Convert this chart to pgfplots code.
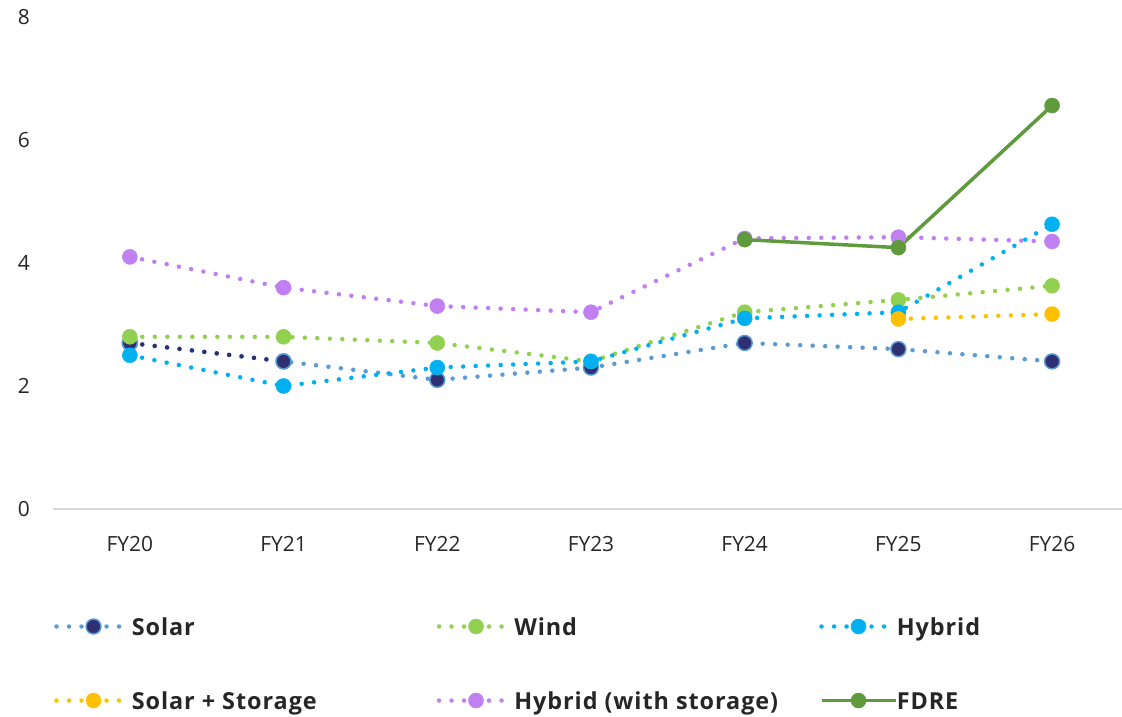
\documentclass[border=0pt]{standalone}
\usepackage{pgfplots}
\pgfplotsset{compat=1.18}
\usepackage{fontspec}
\setmainfont{Open Sans}
\newfontfamily\legfont[LetterSpace=4]{Open Sans}
\definecolor{solarline}{HTML}{5B9BD5}
\definecolor{solarmark}{HTML}{2E3072}
\definecolor{wind}{HTML}{92D050}
\definecolor{hybrid}{HTML}{00B0F0}
\definecolor{solst}{HTML}{FFC000}
\definecolor{hybst}{HTML}{C080F2}
\definecolor{fdre}{HTML}{5F9B3D}
\definecolor{txt}{HTML}{262626}
\tikzset{dotline/.style={line width=4.5bp, line cap=round, dash pattern=on 0bp off 12.5bp}}
\begin{document}
\begin{tikzpicture}
\useasboundingbox (-53bp,-208bp) rectangle (1069bp,509bp);
\begin{axis}[
  at={(0,0)}, anchor=south west,
  scale only axis, width=1069bp, height=492bp,
  xmin=-0.5, xmax=6.455, ymin=0, ymax=8,
  xtick={0,...,6}, xticklabels={FY20,FY21,FY22,FY23,FY24,FY25,FY26},
  ytick={0,2,4,6,8},
  axis x line=bottom, axis y line=left,
  y axis line style={draw=none},
  x axis line style={-, draw=black!15, line width=1.5bp},
  major tick length=0pt,
  tick label style={font=\fontsize{21}{24}\selectfont, text=txt},
  xticklabel style={inner sep=0pt, anchor=north, yshift=-27bp},
  yticklabel style={inner sep=0pt, anchor=east, xshift=-23bp},
  /pgf/number format/assume math mode=true,
  clip=false,
  legend columns=3,
  legend style={draw=none, fill=none, inner sep=0pt, at={(0.001,-0.213)}, anchor=north west,
    font=\legfont\bfseries\fontsize{23.5}{28}\selectfont, text=txt, row sep=49bp,
    nodes={inner sep=2bp}},
  legend cell align=left,
  legend image code/.code={\draw[mark repeat=2,mark phase=2] plot coordinates {(0bp,0bp)(37bp,0bp)(74bp,0bp)};},
  mark size=7.5bp,
]
% Solar
\addplot[dotline, solarline, mark=*, mark options={solid, fill=solarmark, draw=solarline, line width=1.5bp}]
  coordinates {(0,2.7)(1,2.4)(2,2.1)(3,2.3)(4,2.7)(5,2.6)(6,2.4)};
\addlegendentry{\hspace*{-3bp}\makebox[303bp][l]{\strut Solar}}
\addplot[dotline, solarmark, forget plot] coordinates {(0,2.7)(1,2.4)};
\addplot[only marks, mark=*, mark options={solid, fill=solarmark, draw=solarline, line width=1.5bp}, forget plot]
  coordinates {(0,2.7)(1,2.4)};
% Wind
\addplot[dotline, wind, mark=*, mark options={solid, fill=wind, draw=wind, line width=0.5bp}]
  coordinates {(0,2.8)(1,2.8)(2,2.7)(3,2.4)(4,3.2)(5,3.4)(6,3.63)};
\addlegendentry{\hspace*{-3bp}\makebox[303bp][l]{\strut Wind}}
% Hybrid
\addplot[dotline, hybrid, mark=*, mark options={solid, fill=hybrid, draw=hybrid, line width=0.5bp}]
  coordinates {(0,2.5)(1,2.0)(2,2.3)(3,2.4)(4,3.1)(5,3.2)(6,4.63)};
\addlegendentry{\hspace*{-3bp}\makebox[303bp][l]{\strut Hybrid}}
% Solar + Storage
\addplot[dotline, solst, mark=*, mark options={solid, fill=solst, draw=solst, line width=0.5bp}]
  coordinates {(5,3.09)(6,3.17)};
\addlegendentry{\hspace*{-3bp}\makebox[303bp][l]{\strut Solar + Storage}}
% Hybrid (with storage)
\addplot[dotline, hybst, mark=*, mark options={solid, fill=hybst, draw=hybst, line width=0.5bp}]
  coordinates {(0,4.1)(1,3.6)(2,3.3)(3,3.2)(4,4.4)(5,4.42)(6,4.35)};
\addlegendentry{\hspace*{-3bp}\makebox[303bp][l]{\strut Hybrid (with storage)}}
% FDRE
\addplot[fdre, line width=3.5bp, mark=*, mark options={solid, fill=fdre, draw=fdre, line width=0.5bp}]
  coordinates {(4,4.38)(5,4.25)(6,6.56)};
\addlegendentry{\hspace*{-3bp}\makebox[303bp][l]{\strut FDRE}}
\end{axis}
\end{tikzpicture}
\end{document}
